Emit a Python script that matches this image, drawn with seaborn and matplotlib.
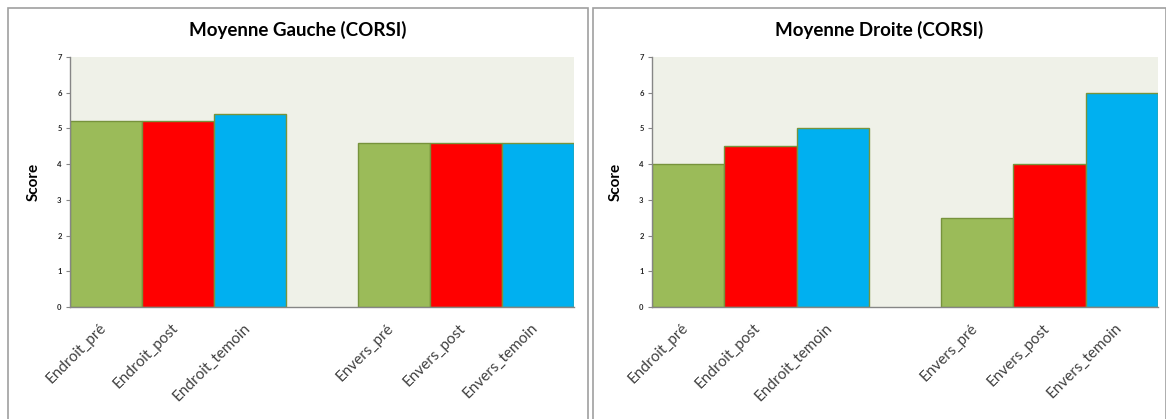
import matplotlib
matplotlib.use('Agg')
import matplotlib.pyplot as plt
from matplotlib.patches import Rectangle
import seaborn as sns
import pandas as pd

categories = ['Endroit_pré', 'Endroit_post', 'Endroit_temoin',
              'Envers_pré', 'Envers_post', 'Envers_temoin']
gauche = [5.2, 5.2, 5.4, 4.6, 4.6, 4.6]
droite = [4.0, 4.5, 5.0, 2.5, 4.0, 6.0]
titles = ['Moyenne Gauche (CORSI)', 'Moyenne Droite (CORSI)']
yticks = [0, 1, 2, 3, 4, 5, 6, 7]

# order with an empty slot between the two groups
gap = '_gap_'
order = categories[:3] + [gap] + categories[3:]
colors = ['#9BBB59', '#FF0000', '#00B0F0'] * 2
palette = dict(zip(categories, colors))

plt.rcParams['font.family'] = ['Lato', 'DejaVu Sans']

W, H = 1166, 419
fig = plt.figure(figsize=(W / 100, H / 100), dpi=100)
fig.patch.set_facecolor('white')

# panel frames (excel chart objects)
for x0, x1 in [(8, 588), (593, 1166)]:
    fig.add_artist(Rectangle((x0 / W, -0.05), (x1 - x0) / W, (H - 8) / H + 0.05,
                             transform=fig.transFigure, fill=False,
                             edgecolor='#A0A0A0', linewidth=1.2))

axes_px = [(70, 574), (652, 1158)]
panel_mid = [(8 + 588) / 2, (593 + 1166) / 2]
for (x0, x1), mid, title, values in zip(axes_px, panel_mid, titles, [gauche, droite]):
    ax = fig.add_axes([x0 / W, 112 / H, (x1 - x0) / W, 250 / H])
    df = pd.DataFrame({'cat': categories, 'score': values})
    sns.barplot(data=df, x='cat', y='score', hue='cat', order=order,
                palette=palette, saturation=1, width=1.0, legend=False, ax=ax,
                edgecolor='#77933C', linewidth=1.0)
    ax.set_facecolor('#EFF1E8')
    ax.set_ylim(0, 7)
    ax.set_xlim(-0.5, len(order) - 0.5)
    ax.set_yticks(yticks)
    ax.set_yticklabels([str(t) for t in yticks], fontsize=5.5,
                       fontweight='bold', color='#262626')
    # labels sit a little left of the bar centres, as in excel
    ax.set_xticks([i - 0.1 for i in range(len(order))])
    ax.set_xticklabels([c if c != gap else '' for c in order], rotation=45,
                       ha='right', rotation_mode='anchor', fontsize=11,
                       color='#404040')
    ax.tick_params(axis='x', length=0, pad=10)
    ax.tick_params(axis='y', length=3, color='#868686', pad=3)
    for s in ['top', 'right']:
        ax.spines[s].set_visible(False)
    for s in ['left', 'bottom']:
        ax.spines[s].set_color('#868686')
        ax.spines[s].set_linewidth(1.0)
    ax.set_xlabel('')
    ax.set_ylabel('Score', fontsize=11, fontweight='bold', color='#000000',
                  labelpad=12)
    fig.text(mid / W, 1 - 30 / H, title, ha='center', va='center',
             fontsize=13.5, fontweight='bold', color='#000000')

fig.savefig('out.png', dpi=100)
